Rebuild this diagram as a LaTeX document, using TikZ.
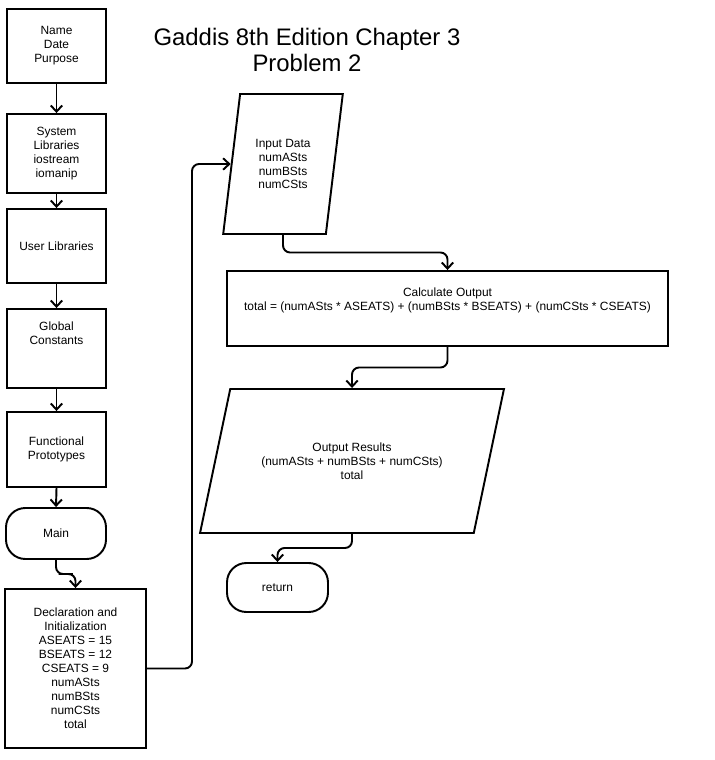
\documentclass[tikz,border=0pt]{standalone}
\usepackage{fontspec}
\setmainfont{Liberation Sans}
\usetikzlibrary{arrows.meta, shapes.geometric, calc}
\tikzset{
  proc/.style={draw, line width=1.1pt, rectangle, align=center, inner sep=2pt,
               font=\fontsize{6.8}{7.94}\selectfont},
  term/.style={proc, rounded corners=11pt},
  io/.style={proc, trapezium, trapezium stretches=true},
  flow/.style={-{Straight Barb[length=3.5pt,width=6.5pt]}, line width=1.1pt, rounded corners=4pt},
}

\begin{document}
\begin{tikzpicture}[x=0.02cm, y=-0.02cm]
\useasboundingbox (0,0) rectangle (714,760);

% --- title ---
\node[font=\fontsize{13.6}{14.74}\selectfont, align=center] (title) at (307,50)
  {Gaddis 8th Edition Chapter 3\\Problem 2};

% --- left column ---
\node[proc, minimum width=1.98cm, minimum height=1.48cm] (head)   at (56.5,46)    {Name\\Date\\Purpose};
\node[proc, minimum width=1.98cm, minimum height=1.58cm] (syslib) at (56.5,153.5) {System\\Libraries\\iostream\\iomanip};
\node[proc, minimum width=1.98cm, minimum height=1.48cm] (usrlib) at (56.5,246)   {User Libraries};
\node[proc, minimum width=1.98cm, minimum height=1.58cm, text depth=17pt] (glob) at (56.5,348.5) {Global\\Constants};
\node[proc, minimum width=1.98cm, minimum height=1.50cm] (proto)  at (56.5,449.5) {Functional\\Prototypes};
\node[term, minimum width=2cm, minimum height=1.02cm]    (main)   at (56,533.5)   {Main};
\node[proc, minimum width=2.82cm, minimum height=3.18cm] (decl)   at (75.5,668.5)
  {Declaration and\\Initialization\\ASEATS = 15\\BSEATS = 12\\CSEATS = 9\\numASts\\numBSts\\numCSts\\total};

% --- right column ---
\node[io, trapezium left angle=77.9, trapezium right angle=102.1,
      minimum width=2.4cm, minimum height=2.8cm] (inp) at (283,164)
  {Input Data\\numASts\\numBSts\\numCSts};
\node[proc, minimum width=8.82cm, minimum height=1.5cm, text depth=10.5pt] (calc) at (447.5,308.5)
  {Calculate Output\\total = (numASts * ASEATS) + (numBSts * BSEATS) + (numCSts * CSEATS)};
\node[io, trapezium left angle=61.9, trapezium right angle=118.1,
      minimum width=6.08cm, minimum height=2.88cm] (out) at (352,461)
  {Output Results\\(numASts + numBSts + numCSts)\\total};
\node[term, minimum width=2.02cm, minimum height=0.98cm] (ret) at (277.5,587.5) {return};

% --- connectors ---
\foreach \a/\b in {head/syslib, syslib/usrlib, usrlib/glob, glob/proto, proto/main}
  \draw[flow] (\a.south) -- (\b.north);
\draw[flow] (main.south) |- ($(main.south)!.5!(decl.north)$) -| (decl.north);
\coordinate (up) at (192,164);
\draw[flow] (decl.east) -| (up) -- (inp.west);
\draw[flow] (inp.south) |- ($(inp.south)!.5!(calc.north)$) -| (calc.north);
\draw[flow] (calc.south) |- ($(calc.south)!.5!(out.north)$) -| (out.north);
\draw[flow] (out.south) |- ($(out.south)!.5!(ret.north)$) -| (ret.north);
\end{tikzpicture}
\end{document}
